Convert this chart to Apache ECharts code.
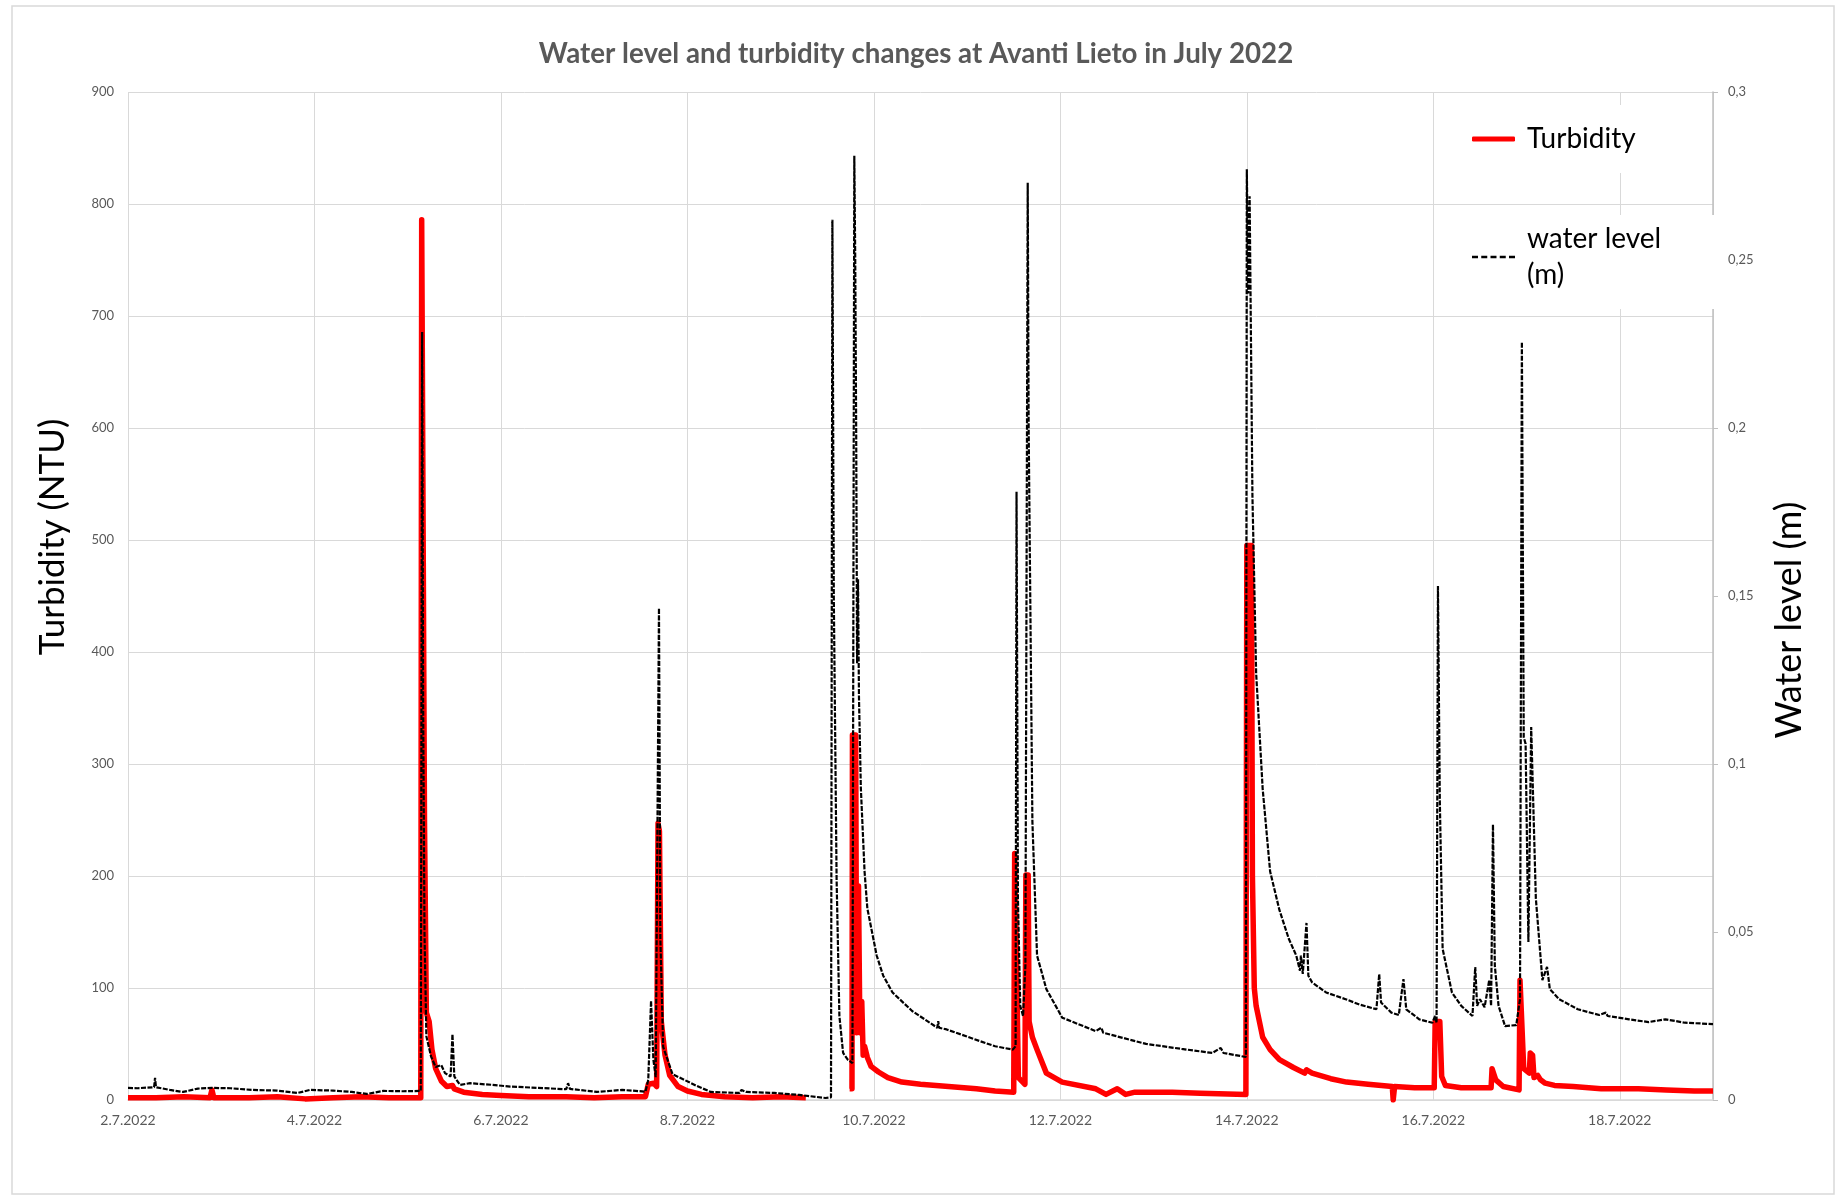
<!DOCTYPE html>
<html>
<head>
<meta charset="utf-8">
<title>Water level and turbidity changes at Avanti Lieto in July 2022</title>
<script src="https://cdn.jsdelivr.net/npm/echarts/dist/echarts.min.js"></script>
<style>
  html, body { margin: 0; padding: 0; background: #fff; }
  #chart { width: 1847px; height: 1196px; }
</style>
</head>
<body>
<div id="chart"></div>
<script>
// x = day of July 2022 (2.0 = 2.7.2022 00:00)
const dayTicks = [2, 4, 6, 8, 10, 12, 14, 16, 18]

// turbidity (NTU), left axis; null = logger gap
const turbidity = [
  [2.00, 2], [2.30, 2], [2.60, 3], [2.88, 2], [2.90, 9], [2.92, 2], [3.30, 2], [3.60, 3],
  [3.90, 1], [4.20, 2], [4.50, 3], [4.80, 2], [5.14, 2], [5.15, 786], [5.165, 786],
  [5.18, 250], [5.20, 78], [5.23, 70], [5.26, 45], [5.30, 28], [5.36, 17], [5.42, 12],
  [5.48, 13], [5.50, 10], [5.60, 7], [5.80, 5], [6.00, 4], [6.30, 3], [6.70, 3], [7.00, 2],
  [7.30, 3], [7.55, 3], [7.58, 14], [7.64, 15], [7.67, 12], [7.685, 247], [7.70, 240],
  [7.72, 70], [7.76, 40], [7.81, 22], [7.90, 12], [8.00, 8], [8.15, 5], [8.40, 3],
  [8.70, 2], [9.00, 3], [9.27, 2], [9.50, null],
  [9.74, 10], [9.765, 10], [9.77, 326], [9.805, 326], [9.815, 60], [9.835, 191],
  [9.85, 60], [9.87, 88], [9.885, 40], [9.90, 48], [9.93, 38], [9.97, 30], [10.05, 25],
  [10.15, 20], [10.30, 16], [10.50, 14], [10.80, 12], [11.10, 10], [11.30, 8], [11.50, 7],
  [11.51, 220], [11.53, 220], [11.55, 20], [11.62, 14], [11.63, 201], [11.655, 201],
  [11.665, 70], [11.70, 56], [11.75, 45], [11.85, 24], [12.02, 16], [12.38, 10],
  [12.49, 5], [12.61, 10], [12.70, 5], [12.80, 7], [13.20, 7], [13.50, 6], [13.99, 5],
  [14.00, 495], [14.05, 495], [14.06, 200], [14.08, 100], [14.10, 84], [14.17, 56],
  [14.25, 45], [14.35, 36], [14.50, 29], [14.62, 24], [14.64, 27], [14.70, 24],
  [14.90, 19], [15.07, 16], [15.30, 14], [15.56, 12], [15.57, 0], [15.585, 12],
  [15.80, 11], [16.01, 11], [16.02, 70], [16.07, 70], [16.09, 21], [16.13, 13],
  [16.30, 11], [16.62, 11], [16.63, 28], [16.67, 18], [16.75, 12], [16.92, 9],
  [16.93, 107], [16.95, 107], [16.97, 28], [17.03, 24], [17.04, 42], [17.065, 40],
  [17.08, 20], [17.12, 22], [17.15, 18], [17.20, 15], [17.30, 13], [17.50, 12],
  [17.80, 10], [18.20, 10], [18.50, 9], [18.80, 8], [19.00, 8]
]

// water level (m), right axis
const waterLevel = [
  [2.00, 0.0036], [2.10, 0.0035], [2.28, 0.0038], [2.29, 0.0066], [2.30, 0.0038],
  [2.45, 0.0030], [2.59, 0.0024], [2.75, 0.0034], [2.90, 0.0036], [3.10, 0.0035],
  [3.33, 0.0030], [3.60, 0.0028], [3.82, 0.0021], [3.95, 0.0030], [4.20, 0.0028],
  [4.40, 0.0024], [4.56, 0.0018], [4.74, 0.0027], [4.95, 0.0026], [5.14, 0.0027],
  [5.155, 0.2286], [5.165, 0.12], [5.18, 0.05], [5.20, 0.019], [5.25, 0.013],
  [5.30, 0.0098], [5.36, 0.0104], [5.40, 0.0080], [5.46, 0.0070], [5.48, 0.0196],
  [5.50, 0.0070], [5.56, 0.0045], [5.67, 0.0050], [5.91, 0.0045], [6.10, 0.0040],
  [6.40, 0.0036], [6.70, 0.0032], [6.72, 0.0050], [6.74, 0.0033], [7.03, 0.0024],
  [7.30, 0.0030], [7.55, 0.0025], [7.58, 0.0060], [7.61, 0.0295], [7.635, 0.0120],
  [7.66, 0.0068], [7.695, 0.1464], [7.71, 0.048], [7.74, 0.0158], [7.84, 0.0077],
  [8.10, 0.0042], [8.25, 0.0024], [8.56, 0.0021], [8.58, 0.0030], [8.63, 0.0024],
  [8.93, 0.0021], [9.20, 0.0015], [9.48, 0.0006], [9.54, 0.0008], [9.555, 0.262],
  [9.57, 0.15], [9.60, 0.066], [9.63, 0.025], [9.67, 0.014], [9.72, 0.012], [9.77, 0.011],
  [9.79, 0.281], [9.80, 0.25], [9.81, 0.20], [9.82, 0.13], [9.83, 0.155], [9.84, 0.12],
  [9.86, 0.093], [9.90, 0.068], [9.93, 0.057], [10.03, 0.043], [10.10, 0.037],
  [10.20, 0.032], [10.41, 0.0265], [10.60, 0.023], [10.68, 0.0215], [10.69, 0.0235],
  [10.70, 0.0215], [10.78, 0.021], [11.13, 0.0176], [11.30, 0.016], [11.49, 0.015],
  [11.52, 0.016], [11.53, 0.181], [11.545, 0.06], [11.57, 0.028], [11.60, 0.025],
  [11.625, 0.04], [11.65, 0.273], [11.66, 0.20], [11.70, 0.083], [11.75, 0.043],
  [11.85, 0.033], [12.02, 0.0245], [12.38, 0.0205], [12.44, 0.0215], [12.46, 0.020],
  [12.92, 0.0167], [13.30, 0.0152], [13.63, 0.014], [13.72, 0.0155], [13.75, 0.014],
  [13.99, 0.0128], [14.00, 0.277], [14.015, 0.24], [14.03, 0.269], [14.06, 0.18],
  [14.10, 0.127], [14.17, 0.0926], [14.25, 0.068], [14.35, 0.0565], [14.45, 0.048],
  [14.53, 0.043], [14.57, 0.0385], [14.58, 0.043], [14.60, 0.0375], [14.64, 0.0527],
  [14.66, 0.037], [14.70, 0.035], [14.85, 0.032], [15.06, 0.030], [15.20, 0.0285],
  [15.39, 0.027], [15.42, 0.0375], [15.44, 0.029], [15.55, 0.026], [15.63, 0.0253],
  [15.68, 0.036], [15.71, 0.027], [15.85, 0.024], [15.99, 0.023], [16.02, 0.025],
  [16.035, 0.023], [16.05, 0.153], [16.07, 0.089], [16.10, 0.045], [16.20, 0.032],
  [16.30, 0.028], [16.42, 0.025], [16.45, 0.0396], [16.47, 0.028], [16.50, 0.030],
  [16.55, 0.0276], [16.60, 0.0357], [16.62, 0.028], [16.64, 0.082], [16.66, 0.040],
  [16.70, 0.028], [16.77, 0.022], [16.89, 0.0223], [16.93, 0.030], [16.95, 0.2256],
  [16.97, 0.108], [16.99, 0.106], [17.02, 0.047], [17.05, 0.111], [17.10, 0.060],
  [17.17, 0.0357], [17.22, 0.0396], [17.25, 0.033], [17.35, 0.030], [17.55, 0.027],
  [17.78, 0.0253], [17.85, 0.026], [17.87, 0.025], [18.10, 0.024], [18.31, 0.0232],
  [18.49, 0.024], [18.70, 0.023], [19.00, 0.0226]
]

let myChart = echarts.init(document.getElementById('chart'))
let gridColor = '#d9d9d9'
let labelColor = '#595959'
let font = 'Lato, "Open Sans", sans-serif'
// legend glyphs: solid red bar, five short black dashes
let dashIcon = 'path://M0,0h6v2.4h-6z M9.25,0h6v2.4h-6z M18.5,0h6v2.4h-6z M27.75,0h6v2.4h-6z M37,0h6v2.4h-6z'

let option = {
    animation: false,
    textStyle: { fontFamily: font },
    grid: { left: 128, right: 134, top: 92, bottom: 96, containLabel: false },
    legend: [{
        data: [{ name: 'Turbidity', icon: 'roundRect' }],
        left: 1445,
        top: 105,
        orient: 'vertical',
        backgroundColor: '#fff',
        padding: [20, 62, 20, 27],
        itemWidth: 43,
        itemHeight: 5,
        textStyle: { color: '#000', fontSize: 28, fontFamily: font, padding: [0, 0, 0, 7] }
    }, {
        data: [{ name: 'water level (m)', icon: dashIcon }],
        left: 1445,
        top: 215,
        orient: 'vertical',
        backgroundColor: '#fff',
        padding: [6, 62, 16, 27],
        itemWidth: 43,
        itemHeight: 2.4,
        formatter: function (name) { return name.replace(' (', '\n(') },
        textStyle: { color: '#000', fontSize: 28, lineHeight: 36, fontFamily: font, padding: [0, 0, 0, 7] }
    }],
    graphic: [{
        type: 'rect',
        shape: { x: 12, y: 6, width: 1822, height: 1188 },
        style: { fill: 'none', stroke: gridColor, lineWidth: 1.5 },
        silent: true
    }, {
        type: 'text',
        x: 916, y: 54,
        style: {
            text: 'Water level and turbidity changes at Avanti Lieto in July 2022',
            fill: labelColor, font: 'bold 27.7px ' + font, align: 'center', verticalAlign: 'middle'
        }
    }, {
        type: 'text',
        x: 53, y: 537,
        rotation: Math.PI / 2,
        style: { text: 'Turbidity (NTU)', fill: '#000', font: '35px ' + font, align: 'center', verticalAlign: 'middle' }
    }, {
        type: 'text',
        x: 1789, y: 620,
        rotation: Math.PI / 2,
        style: { text: 'Water level (m)', fill: '#000', font: '36px ' + font, align: 'center', verticalAlign: 'middle' }
    }],
    xAxis: {
        type: 'value',
        min: 2,
        max: 19,
        interval: 2,
        axisLine: { show: true, lineStyle: { color: gridColor, width: 1.5 } },
        axisTick: { show: false },
        axisLabel: {
            color: labelColor, fontSize: 14, margin: 13, showMaxLabel: false,
            formatter: function (v) { return v + '.7.2022' }
        },
        splitLine: { show: true, lineStyle: { color: gridColor, width: 1 } }
    },
    yAxis: [{
        type: 'value',
        min: 0,
        max: 900,
        interval: 100,
        axisLine: { show: false },
        axisTick: { show: false },
        axisLabel: { color: labelColor, fontSize: 13, margin: 14 },
        splitLine: { show: true, lineStyle: { color: gridColor, width: 1 } }
    }, {
        type: 'value',
        position: 'right',
        min: 0,
        max: 0.3,
        interval: 0.05,
        axisLine: { show: true, lineStyle: { color: '#bfbfbf', width: 1.5 } },
        axisTick: { show: true, length: 5, lineStyle: { color: '#bfbfbf' } },
        axisLabel: {
            color: labelColor, fontSize: 13, margin: 15,
            formatter: function (v) { return String(+v.toFixed(2)).replace('.', ',') }
        },
        splitLine: { show: false }
    }],
    series: [{
        name: 'Turbidity',
        type: 'line',
        yAxisIndex: 0,
        data: turbidity,
        symbol: 'none',
        connectNulls: false,
        z: 2,
        itemStyle: { color: '#ff0000' },
        lineStyle: { color: '#ff0000', width: 5.5, join: 'round' }
    }, {
        name: 'water level (m)',
        type: 'line',
        yAxisIndex: 1,
        data: waterLevel,
        symbol: 'none',
        z: 3,
        itemStyle: { color: '#000' },
        lineStyle: { color: '#000', width: 2.2, type: [5, 1.5] }
    }]
}
myChart.setOption(option)
window.addEventListener('resize', function () {
    myChart.resize()
})
</script>
</body>
</html>
